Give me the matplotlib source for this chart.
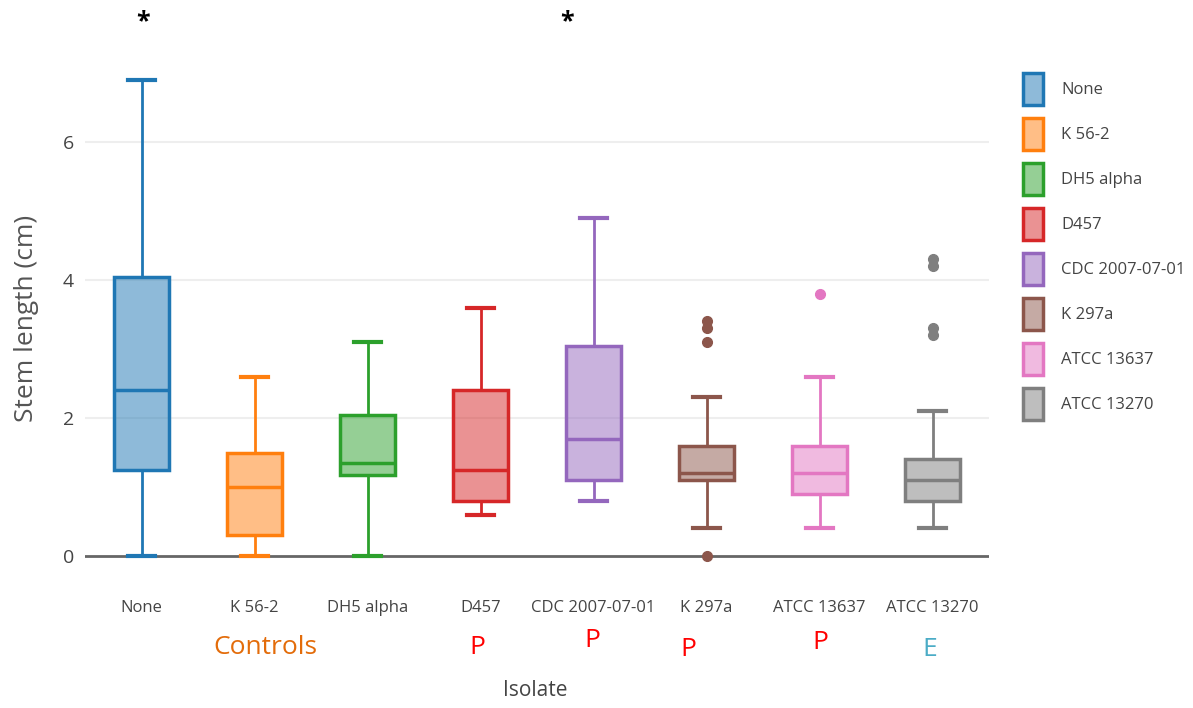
# librerias
import matplotlib
matplotlib.use('Agg')
import matplotlib.pyplot as plt
from matplotlib.patches import Patch
from matplotlib.colors import to_rgba

plt.rcParams['font.family'] = ['Open Sans', 'DejaVu Sans']

# Datos
aislados = ['None', 'K 56-2', 'DH5 alpha', 'D457', 'CDC 2007-07-01',
            'K 297a', 'ATCC 13637', 'ATCC 13270']
colores = ['#1f77b4', '#ff7f0e', '#2ca02c', '#d62728', '#9467bd',
           '#8c564b', '#e377c2', '#7f7f7f']
bigote_inf = [0.0, 0.0, 0.0, 0.6, 0.8, 0.4, 0.4, 0.4]
q1 = [1.25, 0.3, 1.18, 0.8, 1.1, 1.1, 0.9, 0.8]
mediana = [2.4, 1.0, 1.35, 1.25, 1.7, 1.2, 1.2, 1.1]
q3 = [4.05, 1.5, 2.05, 2.4, 3.05, 1.6, 1.6, 1.4]
bigote_sup = [6.9, 2.6, 3.1, 3.6, 4.9, 2.3, 2.6, 2.1]
atipicos = [[], [], [], [], [], [3.4, 3.3, 3.1, 0.0], [3.8], [4.3, 4.2, 3.3, 3.2]]

# Anotaciones debajo del eje
grupos = ['Controls', 'P', 'P', 'P', 'P', 'E']
grupos_x = [1.1, 2.97, 3.99, 4.84, 6.01, 6.98]
grupos_y = [-1.33, -1.33, -1.22, -1.36, -1.26, -1.36]
grupos_color = ['#e36c0a', '#ff0000', '#ff0000', '#ff0000', '#ff0000', '#4bacc6']

fig = plt.figure(figsize=(11.93, 7.08), dpi=100)
ax = fig.add_axes([85 / 1193, (708 - 575) / 708, 904 / 1193, 535 / 708])

# Estadisticas para bxp
stats = []
for i in range(len(aislados)):
    stats.append({'med': mediana[i], 'q1': q1[i], 'q3': q3[i],
                  'whislo': bigote_inf[i], 'whishi': bigote_sup[i],
                  'fliers': atipicos[i], 'label': aislados[i]})

for i, st in enumerate(stats):
    c = colores[i]
    ax.bxp([st], positions=[i], widths=0.49, patch_artist=True,
           showfliers=True, manage_ticks=False,
           boxprops=dict(facecolor=to_rgba(c, 0.5), edgecolor=c, linewidth=2.5),
           medianprops=dict(color=c, linewidth=2.5),
           whiskerprops=dict(color=c, linewidth=2),
           capprops=dict(color=c, linewidth=3),
           capwidths=0.245,
           flierprops=dict(marker='o', markerfacecolor=c, markeredgecolor=c,
                           markersize=7),
           zorder=3)

# Ejes
ax.set_xlim(-0.5, 7.5)
ax.set_ylim(-0.275, 7.478)
ax.set_xticks(range(len(aislados)))
ax.set_xticklabels(aislados, fontsize=12, color='#444444')
ax.set_yticks([0, 2, 4, 6])
ax.tick_params(axis='y', labelsize=14, labelcolor='#444444', length=0, pad=8)
ax.tick_params(axis='x', length=0, pad=18)
for s in ax.spines.values():
    s.set_visible(False)
for v in [2, 4, 6]:
    ax.axhline(v, color='#eeeeee', linewidth=1.5, zorder=0)
ax.axhline(0, color='#666666', linewidth=2, zorder=1)
ax.set_ylabel('Stem length (cm)', fontsize=19, color='#555555')
ax.yaxis.set_label_coords(-(85 - 39) / 904, (575 - 318) / 535)

# Etiquetas de grupo y titulo del eje x
for txt, gx, gy, gc in zip(grupos, grupos_x, grupos_y, grupos_color):
    ax.text(gx, gy, txt, ha='center', va='center', fontsize=19, color=gc,
            clip_on=False)
fig.text(535 / 1193, 1 - 690 / 708, 'Isolate', ha='center', va='center',
         fontsize=15, color='#444444')

# Asteriscos
fig.text(143 / 1193, 1 - 22 / 708, '*', ha='center', va='center', fontsize=18,
         fontweight='bold', color='black')
fig.text(567 / 1193, 1 - 22 / 708, '*', ha='center', va='center', fontsize=18,
         fontweight='bold', color='black')

# Leyenda
handles = [Patch(facecolor=to_rgba(c, 0.5), edgecolor=c, linewidth=2.5) for c in colores]
fig.legend(handles, aislados, loc='upper left', bbox_to_anchor=(1008 / 1193, 1 - 58 / 708),
           frameon=False, fontsize=12, handlelength=1.2, handleheight=2.58,
           labelspacing=0.78, handletextpad=1.1, labelcolor='#444444')

fig.savefig('out.png', dpi=100)
